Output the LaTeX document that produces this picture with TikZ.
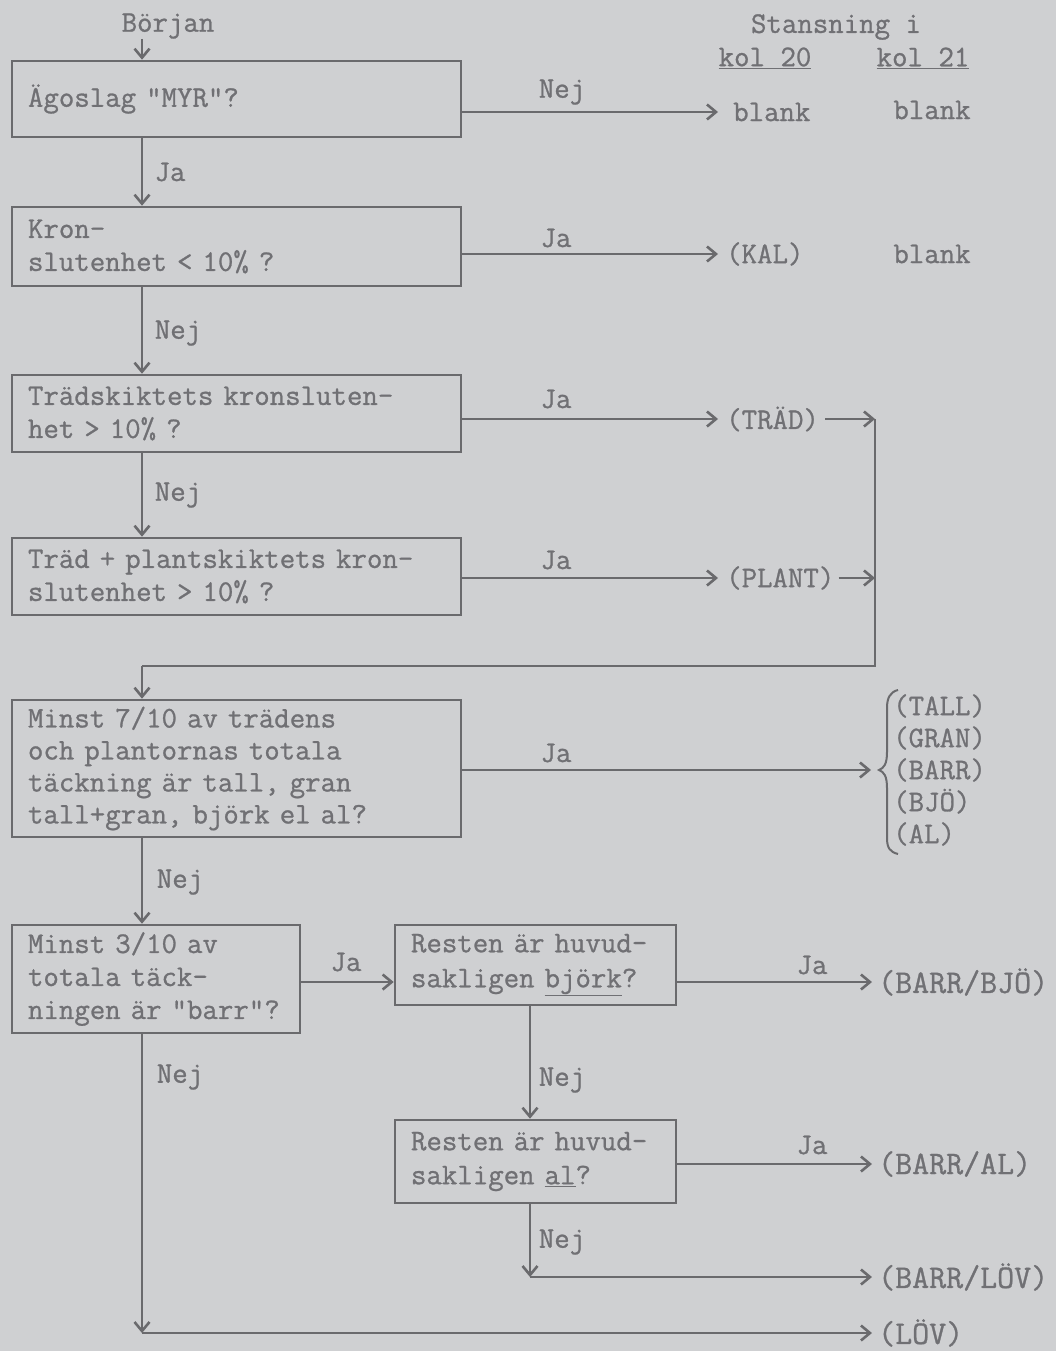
\documentclass[tikz,border=0pt]{standalone}
\usepackage{fontspec}
\usetikzlibrary{arrows.meta}
\newfontfamily\twfont[FakeBold=0.9]{Latin Modern Mono}
\definecolor{bg}{RGB}{207,208,210}
\definecolor{ink}{RGB}{106,106,109}
\definecolor{inktxt}{RGB}{112,112,116}
\newcommand\tfont{\fontsize{30}{33}\selectfont\twfont}
\newcommand\bigtfont{\fontsize{33}{36}\selectfont\twfont}
\tikzset{
  box/.style={draw=ink, line width=2.6pt, rectangle, inner xsep=16pt, inner ysep=0pt,
              align=left, text=inktxt, font=\tfont},
  lab/.style={text=inktxt, font=\tfont, inner sep=0pt},
  biglab/.style={text=inktxt, font=\bigtfont, inner sep=0pt},
  arr/.style={draw=ink, line width=2.4pt, -{Straight Barb[length=9pt,width=15pt,line width=2.6pt]}},
  ln/.style={draw=ink, line width=2.4pt},
}
\begin{document}
\begin{tikzpicture}[x=1pt,y=-1pt]
\fill[bg] (0,0) rectangle (1056,1351);
\useasboundingbox (0,0) rectangle (1056,1351);

\coordinate (v) at (142,0);
\coordinate (w) at (530,0);

% header texts
\node[lab] (start) at (168,26) {Början};
\node[lab] (hdr) at (836,27) {Stansning i};
\node[lab] (k20) at (765,58) {\underline{kol 20}};
\node[lab] (k21) at (923,58) {\underline{kol 21}};

% boxes
\node[box, minimum width=449pt, minimum height=76pt, text width=417pt] (b1) at (236.5,99) {\raisebox{-6pt}{Ägoslag "MYR"?}};
\node[box, minimum width=449pt, minimum height=79pt, text width=417pt] (b2) at (236.5,246.5) {Kron-\\slutenhet < 10\% ?};
\node[box, minimum width=449pt, minimum height=77pt, text width=417pt] (b3) at (236.5,413.5) {Trädskiktets kronsluten-\\het > 10\% ?};
\node[box, minimum width=449pt, minimum height=77pt, text width=417pt] (b4) at (236.5,576.5) {Träd + plantskiktets kron-\\slutenhet > 10\% ?};
\node[box, minimum width=449pt, minimum height=137pt, text width=417pt, font=\fontsize{30}{32}\selectfont\twfont] (b5) at (236.5,768.5) {Minst 7/10 av trädens\\och plantornas totala\\täckning är tall, gran\\tall+gran, björk el al?};
\node[box, minimum width=288pt, minimum height=108pt, text width=256pt] (b6) at (156,979) {Minst 3/10 av\\totala täck-\\ningen är "barr"?};
\node[box, minimum width=281pt, minimum height=80pt, text width=249pt, font=\fontsize{30}{35}\selectfont\twfont] (b7) at (535.5,965) {Resten är huvud-\\sakligen \underline{björk}?};
\node[box, minimum width=281pt, minimum height=83pt, text width=249pt, font=\fontsize{30}{34}\selectfont\twfont] (b8) at (535.5,1161.5) {Resten är huvud-\\sakligen \underline{al}?};

% results
\node[lab, anchor=west] (r1) at (733,112) {blank};
\node[lab] (r1b) at (932,110) {blank};
\node[lab, anchor=west] (r2) at (726,254) {(KAL)};
\node[lab] (r2b) at (932,254) {blank};
\node[lab, anchor=west] (r3) at (726,419) {(TRÄD)};
\node[lab, anchor=west] (r4) at (726,578) {(PLANT)};
\node[lab, anchor=west, align=left, font=\fontsize{30}{32}\selectfont\twfont] (r5) at (893,770) {(TALL)\\(GRAN)\\(BARR)\\(BJÖ)\\(AL)};
\node[biglab, anchor=west] (r6) at (878,982) {(BARR/BJÖ)};
\node[biglab, anchor=west] (r7) at (878,1164) {(BARR/AL)};
\node[biglab, anchor=west] (r8) at (878,1277) {(BARR/LÖV)};
\node[biglab, anchor=west] (r9) at (878,1333) {(LÖV)};

% connector labels
\node[lab] (l1) at (562,92) {Nej};
\node[lab] (l2) at (170,172) {Ja};
\node[lab] (l3) at (556,238) {Ja};
\node[lab] (l4) at (178,333) {Nej};
\node[lab] (l5) at (556,399) {Ja};
\node[lab] (l6) at (178,495) {Nej};
\node[lab] (l7) at (556,560) {Ja};
\node[lab] (l8) at (556,753) {Ja};
\node[lab] (l9) at (180,882) {Nej};
\node[lab] (l10) at (346,962) {Ja};
\node[lab] (l11) at (180,1077) {Nej};
\node[lab] (l12) at (812,965) {Ja};
\node[lab] (l13) at (562,1080) {Nej};
\node[lab] (l14) at (812,1145) {Ja};
\node[lab] (l15) at (562,1242) {Nej};

% merge coordinates
\coordinate (m3) at (875,419);
\coordinate (m4) at (875,578);
\coordinate (mj) at (875,666);
\coordinate (br) at (879,770);

% connectors
\draw[arr] (start.south -| v) -- (b1.north -| v);
\draw[arr] (b1.south -| v) -- (b2.north -| v);
\draw[arr] (b2.south -| v) -- (b3.north -| v);
\draw[arr] (b3.south -| v) -- (b4.north -| v);
\draw[arr, shorten >=15pt] (b1.east |- r1.west) -- (r1.west);
\draw[arr, shorten >=8pt] (b2.east |- r2.west) -- (r2.west);
\draw[arr, shorten >=8pt] (b3.east |- r3.west) -- (r3.west);
\draw[arr, shorten >=8pt] (b4.east |- r4.west) -- (r4.west);
\draw[arr, shorten <=6pt] (r3.east) -- (m3);
\draw[arr, shorten <=4pt] (r4.east) -- (m4);
\draw[ln] (m3) -- (mj) -- (v |- mj);
\draw[arr] (v |- mj) -- (b5.north -| v);
\draw[arr, shorten >=8pt] (b5.east |- br) -- (br);
\draw[ln, line width=2pt] (898,690) .. controls (890,692) and (887,698) .. (887,708) -- (887,752) .. controls (887,764) and (884,768) .. (br) .. controls (884,772) and (887,776) .. (887,788) -- (887,838) .. controls (887,848) and (890,852) .. (898,854);
\draw[arr] (b5.south -| v) -- (b6.north -| v);
\draw[arr] (b6.east |- r6) -- (b7.west |- r6);
\draw[arr, shorten >=6pt] (b7.east |- r6) -- (r6.west);
\draw[arr] (b7.south -| w) -- (b8.north -| w);
\draw[arr, shorten >=6pt] (b8.east |- r7) -- (r7.west);
\draw[arr] (b8.south -| w) -- (w |- r8);
\draw[arr, shorten >=6pt] (w |- r8) -- (r8.west);
\draw[arr] (b6.south -| v) -- (v |- r9);
\draw[arr, shorten >=6pt] (v |- r9) -- (r9.west);
\end{tikzpicture}
\end{document}
